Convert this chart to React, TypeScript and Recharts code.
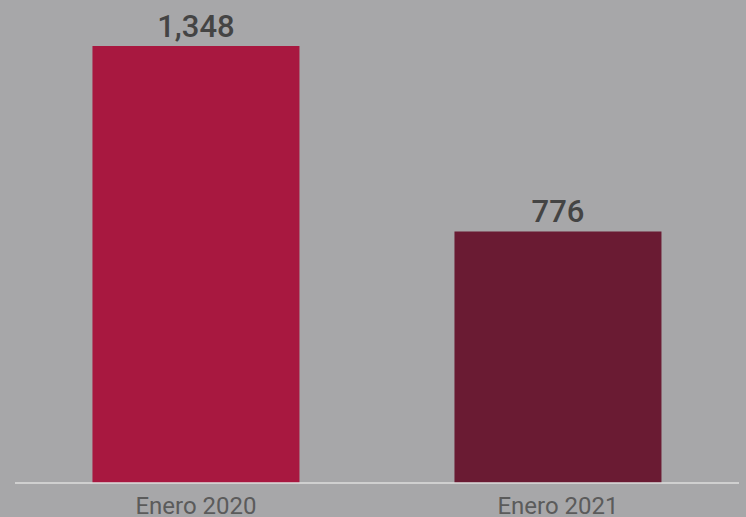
import React from 'react';
import { BarChart, Bar, XAxis, YAxis, Cell, LabelList } from 'recharts';

const categories = ['Enero 2020', 'Enero 2021'];
const values = [1348, 776];
const colors = ['#a81840', '#6a1b33'];

const data = categories.map((name, i) => ({ name, value: values[i] }));

const fmt = (v: any) => Number(v).toLocaleString('en-US');

export default function App() {
  return (
    <div style={{ position: 'absolute', left: 0, top: 0, width: 746, height: 517, background: '#a7a7a9' }}>
      <BarChart
        width={746}
        height={517}
        data={data}
        margin={{ top: 46, right: 7, bottom: 0, left: 15 }}
        barCategoryGap="21.4%"
      >
        <XAxis
          dataKey="name"
          height={34}
          tickLine={false}
          tickMargin={8}
          axisLine={{ stroke: '#dedede', strokeWidth: 1.5 }}
          tick={{ fill: '#5b5b5b', fontSize: 24, fontFamily: 'Roboto' }}
        />
        <YAxis hide domain={[0, 1348]} />
        <Bar dataKey="value" isAnimationActive={false}>
          {data.map((d, i) => (
            <Cell key={d.name} fill={colors[i]} />
          ))}
          <LabelList
            dataKey="value"
            position="top"
            offset={9}
            formatter={fmt}
            style={{ fill: '#444444', fontSize: 31, fontWeight: 500, fontFamily: 'Roboto' }}
          />
        </Bar>
      </BarChart>
    </div>
  );
}
